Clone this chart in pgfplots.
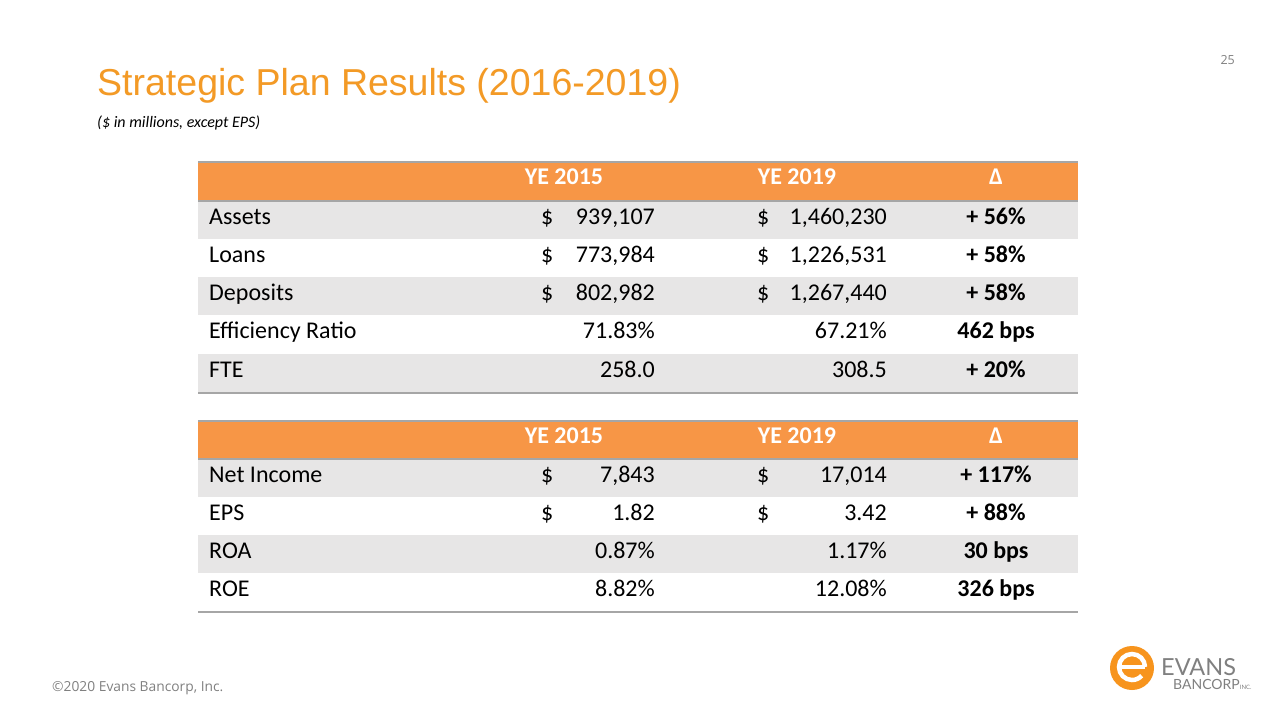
\documentclass[border=0pt]{standalone}
\usepackage{pgfplots}
\pgfplotsset{compat=1.18}
\usepackage{fontspec}
\setmainfont{Carlito}
\newfontfamily\titlefont{Liberation Sans}
\newfontfamily\footfont{Open Sans}
\newfontfamily\logofont{Lato}
\definecolor{hdr}{HTML}{F79646}
\definecolor{band}{HTML}{E7E6E6}
\definecolor{ttl}{HTML}{F39A26}
\definecolor{rulec}{HTML}{A6A6A6}
\definecolor{logoor}{HTML}{F7941D}
\definecolor{logogr}{HTML}{808080}
\newcommand{\tf}{\fontsize{24}{28}\selectfont}
% #1 y1, #2 y2, #3 fill, #4 label, #5 $ 2015, #6 value 2015, #7 $ 2019, #8 value 2019, #9 delta
\newcommand{\trow}[9]{%
  \fill[#3] (axis cs:198,#1) rectangle (axis cs:1078,#2);
  \node[anchor=mid west,inner sep=0pt,font=\tf] at (axis cs:209,{(#1+#2)/2+2}) {#4};
  \node[anchor=mid west,inner sep=0pt,font=\tf] at (axis cs:541,{(#1+#2)/2+2}) {#5};
  \node[anchor=mid east,inner sep=0pt,font=\tf] at (axis cs:655,{(#1+#2)/2+2}) {#6};
  \node[anchor=mid west,inner sep=0pt,font=\tf] at (axis cs:757,{(#1+#2)/2+2}) {#7};
  \node[anchor=mid east,inner sep=0pt,font=\tf] at (axis cs:887,{(#1+#2)/2+2}) {#8};
  \node[anchor=mid,inner sep=0pt,font=\tf\bfseries] at (axis cs:996,{(#1+#2)/2+2}) {#9};
}
\newcommand{\thead}[2]{%
  \fill[hdr] (axis cs:198,#1) rectangle (axis cs:1078,#2);
  \draw[rulec,line width=1.5pt] (axis cs:198,#1) -- (axis cs:1078,#1);
  \node[anchor=mid,inner sep=0pt,font=\tf\bfseries,text=white] at (axis cs:564,{(#1+#2)/2+1}) {YE 2015};
  \node[anchor=mid,inner sep=0pt,font=\tf\bfseries,text=white] at (axis cs:797,{(#1+#2)/2+1}) {YE 2019};
  \node[anchor=mid,inner sep=0pt,font=\tf\bfseries,text=white] at (axis cs:996,{(#1+#2)/2+1}) {Δ};
}
\begin{document}
\begin{tikzpicture}
\begin{axis}[
  width=1280pt, height=720pt, scale only axis,
  xmin=0, xmax=1280, ymin=0, ymax=720, y dir=reverse,
  hide axis, clip=false]
\fill[white] (axis cs:0,0) rectangle (axis cs:1280,720);
% title
\node[anchor=base west,inner sep=0pt,text=ttl,font=\titlefont\fontsize{37.5}{42}\selectfont] at (axis cs:97,95) {Strategic Plan Results (2016-2019)};
\node[anchor=base west,inner sep=0pt,font=\fontsize{16}{19}\selectfont\itshape] at (axis cs:97,127) {(\$ in millions, except EPS)};
\node[anchor=base east,inner sep=0pt,text=logogr,font=\footfont\fontsize{12.5}{15}\selectfont] at (axis cs:1235,64) {25};
% table 1
\thead{162}{201}
\trow{201}{239}{band}{Assets}{\$}{939,107}{\$}{1,460,230}{+ 56\%}
\trow{239}{277}{white}{Loans}{\$}{773,984}{\$}{1,226,531}{+ 58\%}
\trow{277}{315}{band}{Deposits}{\$}{802,982}{\$}{1,267,440}{+ 58\%}
\trow{315}{354}{white}{Efficiency Ratio}{}{71.83\%}{}{67.21\%}{462 bps}
\trow{354}{393}{band}{FTE}{}{258.0}{}{308.5}{+ 20\%}
\draw[rulec,line width=1.2pt] (axis cs:198,201) -- (axis cs:1078,201);
\draw[rulec,line width=1.2pt] (axis cs:198,393) -- (axis cs:1078,393);
% table 2
\thead{421}{459}
\trow{459}{497}{band}{Net Income}{\$}{7,843}{\$}{17,014}{+ 117\%}
\trow{497}{535}{white}{EPS}{\$}{1.82}{\$}{3.42}{+ 88\%}
\trow{535}{573}{band}{ROA}{}{0.87\%}{}{1.17\%}{30 bps}
\trow{573}{612}{white}{ROE}{}{8.82\%}{}{12.08\%}{326 bps}
\draw[rulec,line width=1.2pt] (axis cs:198,459) -- (axis cs:1078,459);
\draw[rulec,line width=1.2pt] (axis cs:198,612) -- (axis cs:1078,612);
% footer
\node[anchor=base west,inner sep=0pt,text=logogr,font=\footfont\fontsize{13.8}{16}\selectfont] at (axis cs:52,691) {\textcopyright 2020 Evans Bancorp, Inc.};
% logo
\fill[logoor] (axis cs:1132,668) circle[radius=22pt];
\draw[white,line width=4.5pt] (axis cs:1145,667) arc[start angle=0,end angle=318,radius=13pt];
\draw[white,line width=4.5pt] (axis cs:1119,667) -- (axis cs:1145,667);
\node[anchor=base west,inner sep=0pt,text=logogr,font=\logofont\fontsize{23.5}{26}\selectfont] at (axis cs:1161,675) {EVANS};
\node[anchor=base west,inner sep=0pt,text=logogr,font=\logofont\fontsize{14}{16}\selectfont] at (axis cs:1173,689) {BANCORP\fontsize{6}{7}\selectfont INC.};
\end{axis}
\end{tikzpicture}
\end{document}
